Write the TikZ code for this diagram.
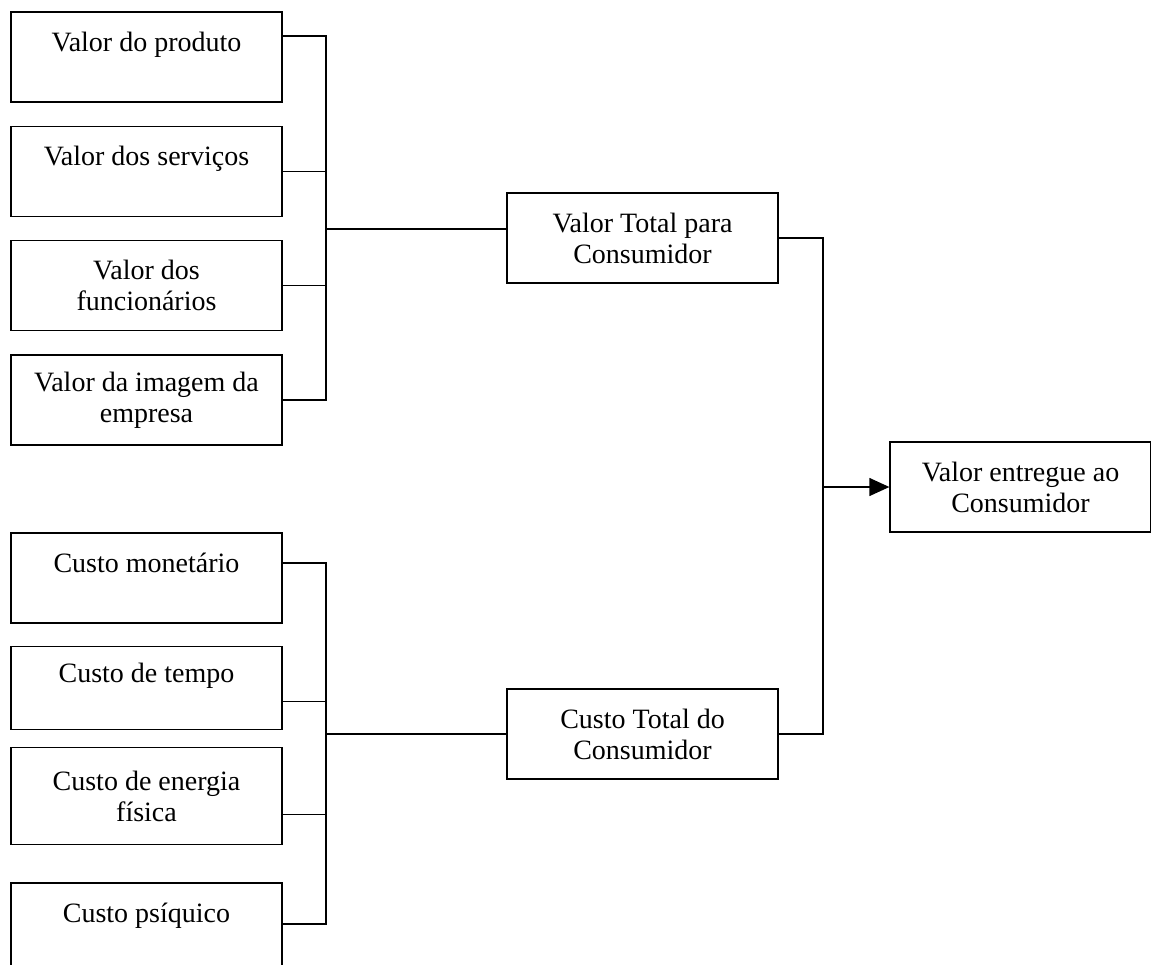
\documentclass[tikz,border=0pt]{standalone}
\usepackage{fontspec}
\setmainfont{Liberation Serif}
\usepackage{tikz}
\usetikzlibrary{arrows.meta, positioning}

\begin{document}
\begin{tikzpicture}[
        x=1pt, y=1pt,
        node distance = 23pt and 1.0cm,
        base/.style  ={draw=black, line width=1.3pt, font=\fontsize{28}{31}\selectfont,
                       align=center, minimum width=271pt, minimum height=90pt, inner sep=0pt},
        item/.style  ={base},
        total/.style ={base},
        result/.style={base, minimum width=261pt},
        link/.style  ={line width=1.3pt},
        arrow/.style ={line width=1.3pt, -{Triangle[length=20pt, width=18pt]}}
    ]
    \useasboundingbox (0,0) rectangle (1151,-964);

    % --- valores ---
    \node[item] at (146.5,-57) (vp) {Valor do produto\\\mbox{}};
    \node[item, below=of vp] (vs) {Valor dos servi\c{c}os\\\mbox{}};
    \node[item, below=of vs] (vf) {Valor dos\\funcion\'arios};
    \node[item, below=of vf] (vi) {Valor da imagem da\\empresa};

    % --- custos ---
    \node[item] at (146.5,-578) (cm) {Custo monet\'ario\\\mbox{}};
    \node[item, below=22pt of cm, minimum height=83pt] (ctp) {Custo de tempo\\\mbox{}};
    \node[item, below=17pt of ctp, minimum height=97pt] (ce) {Custo de energia\\f\'isica};
    \node[item, below=37pt of ce] (cq) {Custo ps\'iquico\\\mbox{}};

    % --- totais ---
    \node[total] at (642.5,-238) (vt) {Valor Total para\\Consumidor};
    \node[total] at (642.5,-734) (ct) {Custo Total do\\Consumidor};
    \node[result] at (1020.5,-487) (ve) {Valor entregue ao\\Consumidor};

    \coordinate (busV) at (326,-229);
    \coordinate (busC) at (326,-734);
    \coordinate (join) at (823,-487);

    % --- linhas ---
    \draw[link] ([yshift=21pt]vp.east) -| (busV);
    \draw[link] (vs.east) -| (busV);
    \draw[link] (vf.east) -| (busV);
    \draw[link] (vi.east) -| (busV);
    \draw[link] (busV) -- (busV -| vt.west);

    \draw[link] ([yshift=15pt]cm.east) -| (busC);
    \draw[link] ([yshift=-13.5pt]ctp.east) -| (busC);
    \draw[link] ([yshift=-18.5pt]ce.east) -| (busC);
    \draw[link] ([yshift=4pt]cq.east) -| (busC);
    \draw[link] (busC) -- (ct.west);

    \draw[link] (vt.east) -| (join);
    \draw[link] (ct.east) -| (join);
    \draw[arrow] (join) -- (ve.west);

\end{tikzpicture}
\end{document}
